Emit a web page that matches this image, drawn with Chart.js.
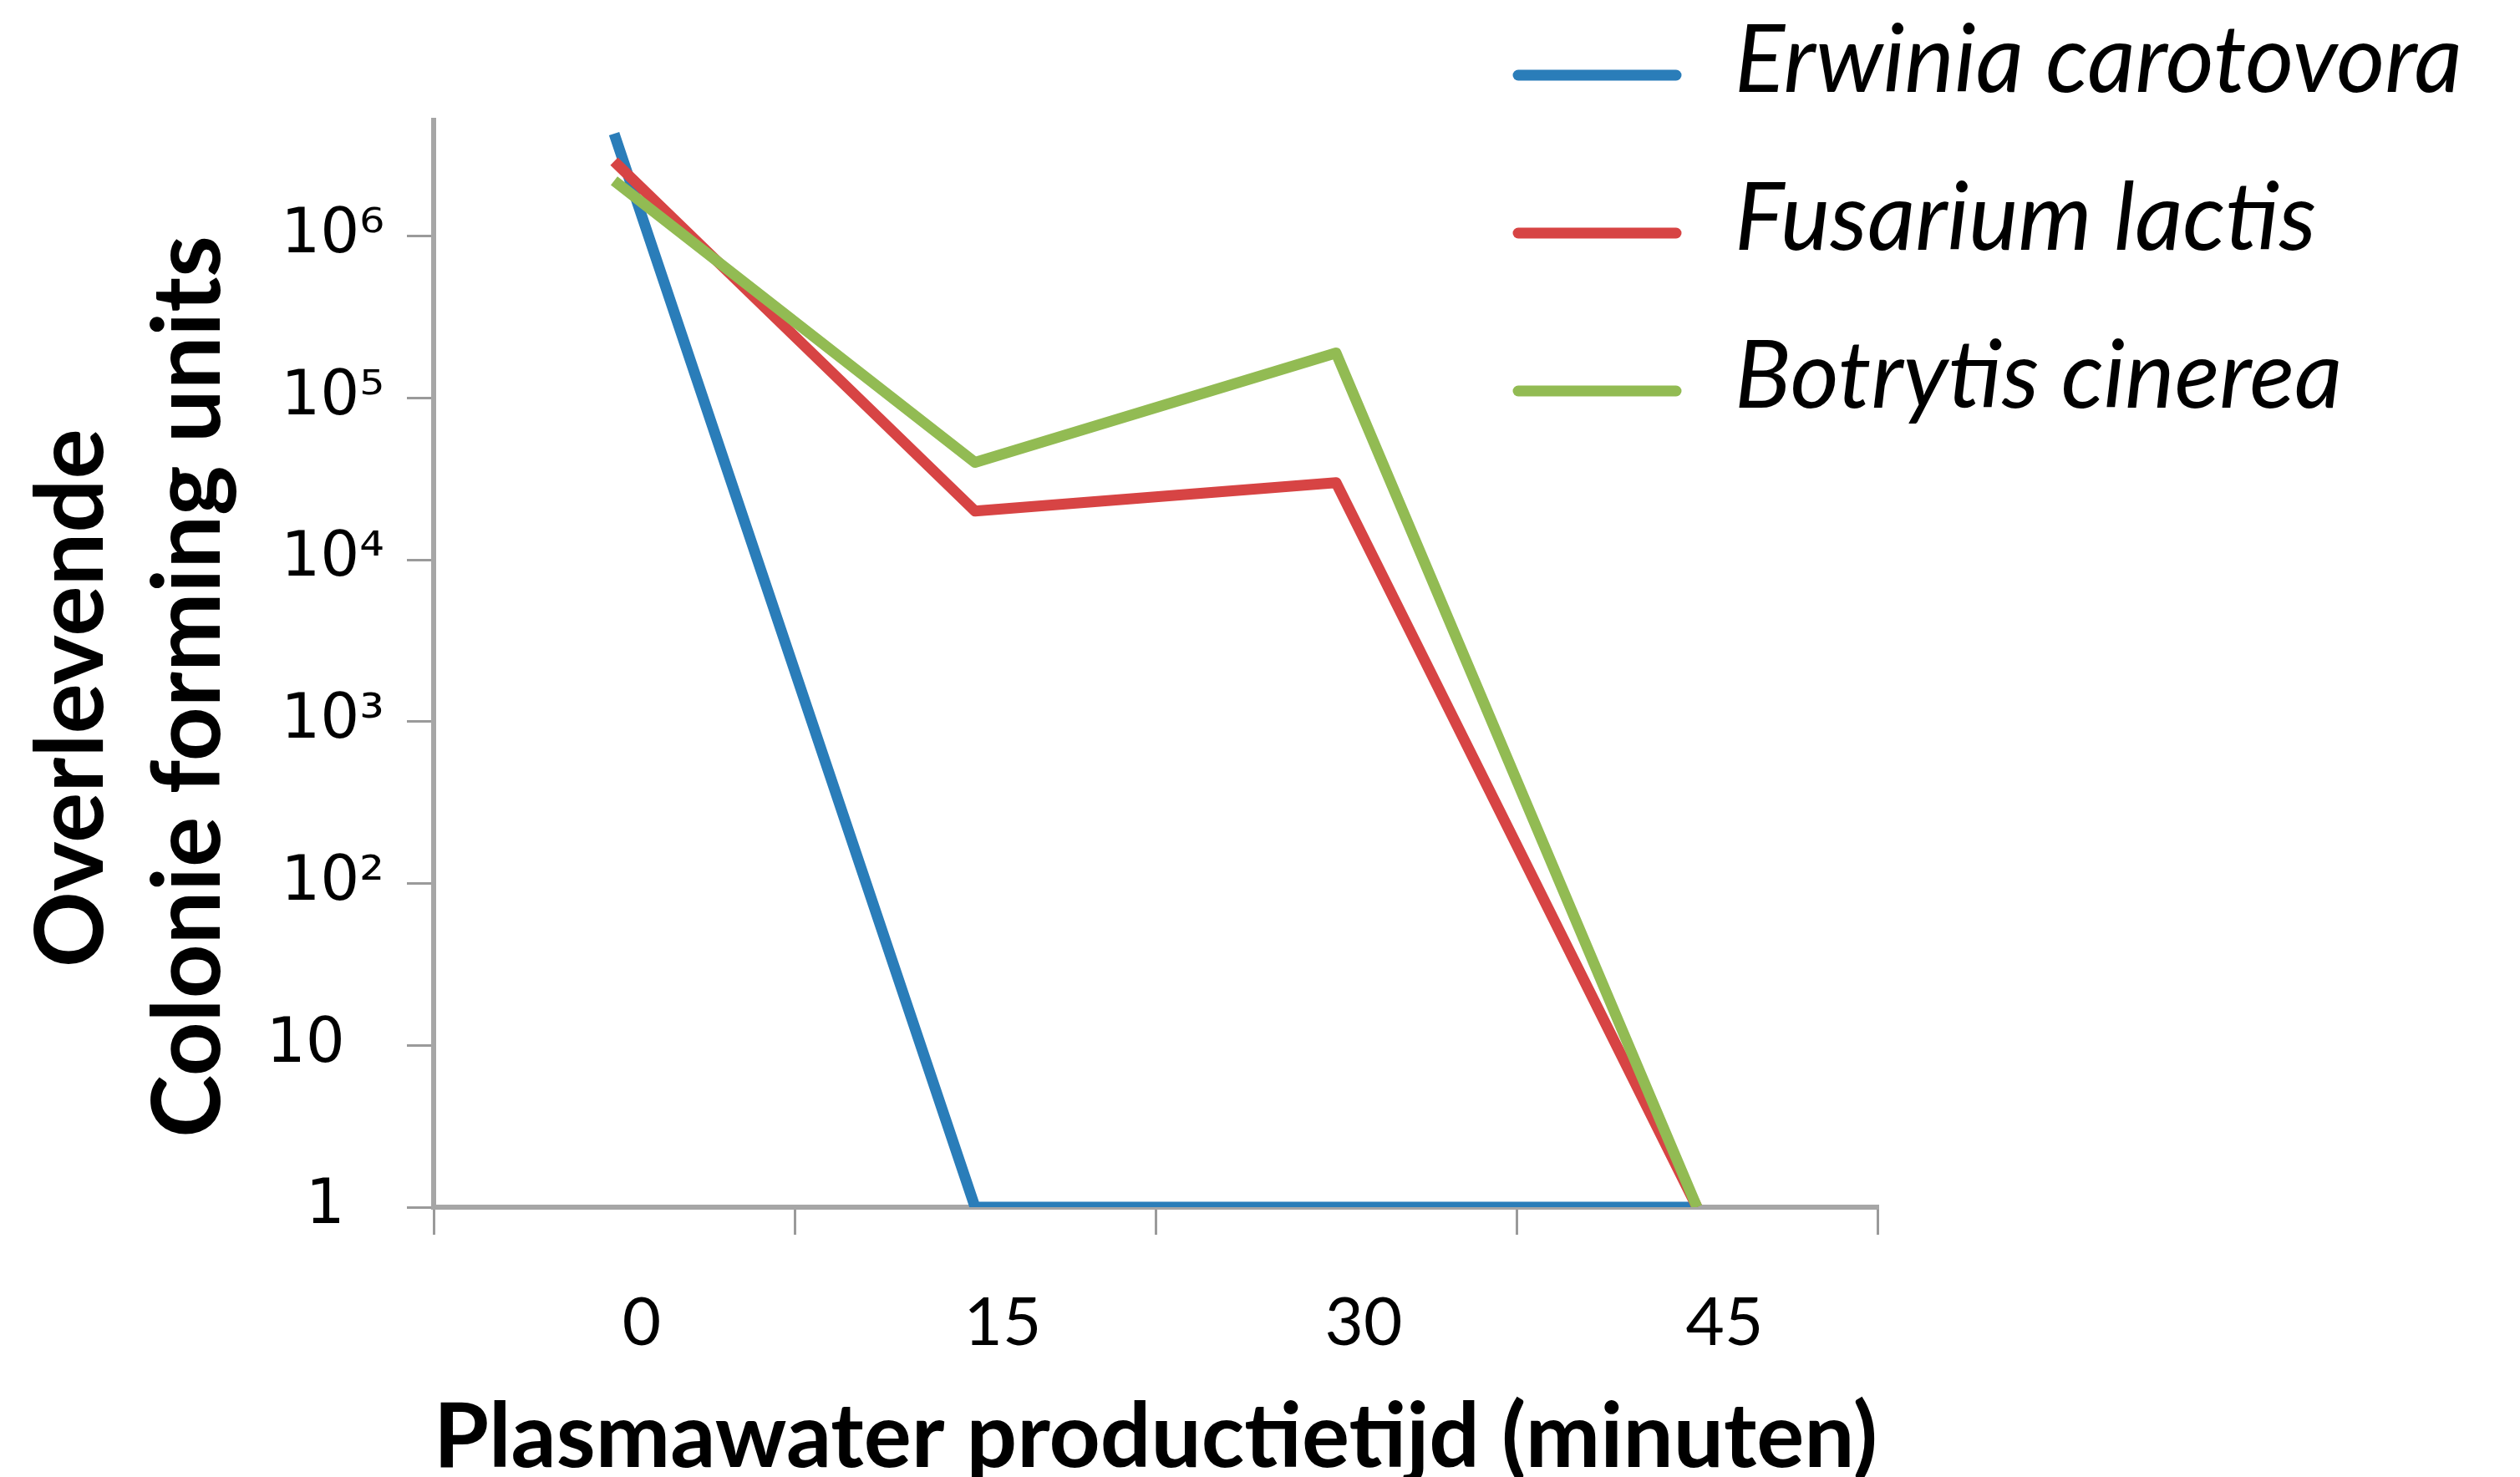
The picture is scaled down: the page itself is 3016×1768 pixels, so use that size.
<!DOCTYPE html>
<html><head><meta charset="utf-8">
<script src="https://cdn.jsdelivr.net/npm/chart.js@4"></script>
<style>html,body{margin:0;padding:0;background:#fff;overflow:hidden}#wrap{width:3016px;height:1768px;position:relative}</style>
</head><body><div id="wrap"><canvas id="c" width="3016" height="1768"></canvas></div>
<script>
// ---- data ----
const categories = ['0', '15', '30', '45'];
const seriesNames = ['Erwinia carotovora', 'Fusarium lactis', 'Botrytis cinerea'];
const erwinia = [4.3e6, 1, 1, 1];
const fusarium = [2.9e6, 2.0e4, 3.0e4, 1];
const botrytis = [2.2e6, 4.0e4, 1.9e5, 1];
const yTickValues = [1, 10, 100, 1000, 10000, 100000, 1000000];
const yTickLabels = ['1', '10', '10²', '10³', '10⁴', '10⁵', '10⁶'];
const yMin = 1;
const yMax = 5.2e6;
const xTitle = 'Plasmawater productietijd (minuten)';
const yTitle = ['Overlevende', 'Colonie forming units'];

const colors = ['#2A7DB9', '#D74444', '#92BB53'];
const NB = '\u00a0';

const legendPlugin = {
  id: 'customLegend',
  afterDraw(chart) {
    const ctx = chart.ctx;
    const ys = [90, 279, 468];
    ctx.save();
    chart.data.datasets.forEach((ds, i) => {
      const y = ys[i];
      ctx.strokeStyle = ds.borderColor;
      ctx.lineWidth = 13;
      ctx.lineCap = 'round';
      ctx.beginPath();
      ctx.moveTo(1817, y);
      ctx.lineTo(2006, y);
      ctx.stroke();
      ctx.fillStyle = '#000';
      ctx.font = 'italic 112px Lato';
      ctx.textAlign = 'left';
      ctx.textBaseline = 'alphabetic';
      ctx.fillText(ds.label, 2076, y + 20);
    });
    ctx.restore();
  }
};

function build() {
  new Chart(document.getElementById('c'), {
    type: 'line',
    data: {
      labels: categories,
      datasets: [
        { label: seriesNames[0], data: erwinia, borderColor: colors[0], order: 2 },
        { label: seriesNames[1], data: fusarium, borderColor: colors[1], order: 1 },
        { label: seriesNames[2], data: botrytis, borderColor: colors[2], order: 0 }
      ].map(d => Object.assign(d, { borderWidth: 13, pointRadius: 0, pointHoverRadius: 0, tension: 0, fill: false, borderCapStyle: 'butt', borderJoinStyle: 'round' }))
    },
    options: {
      responsive: false,
      animation: false,
      devicePixelRatio: 1,
      layout: { padding: { left: 0, top: 144, right: 769, bottom: 0 } },
      plugins: { legend: { display: false }, tooltip: { enabled: false } },
      scales: {
        x: {
          type: 'category',
          offset: true,
          grid: { offset: true, drawOnChartArea: false, drawTicks: true, tickLength: 33, color: '#9a9a9a', lineWidth: 3 },
          border: { display: true, color: '#a6a6a6', width: 6 },
          ticks: { font: { family: 'Lato', size: 80 }, color: '#000', padding: 58, labelOffset: 33, autoSkip: false, maxRotation: 0 },
          title: { display: true, text: xTitle, font: { family: 'Lato', size: 108, weight: 'bold' }, color: '#000', padding: { top: 0, bottom: -18 } },
          afterFit(s) { s.height = 323; }
        },
        y: {
          type: 'logarithmic',
          min: yMin,
          max: yMax,
          afterBuildTicks(s) { s.ticks = yTickValues.map(v => ({ value: v })); },
          grid: { drawOnChartArea: false, drawTicks: true, tickLength: 32, color: '#9a9a9a', lineWidth: 3 },
          border: { display: true, color: '#a6a6a6', width: 6 },
          ticks: {
            font: { family: 'DejaVu Sans', size: 74 }, color: '#000', padding: 27, autoSkip: false,
            callback(v) {
              const i = yTickValues.indexOf(v);
              if (i < 0) return '';
              const l = yTickLabels[i];
              return l.length <= 2 ? l + NB + NB : l;
            }
          },
          title: { display: true, text: [yTitle[0] + NB + NB + NB, yTitle[1] + NB + NB], font: { family: 'Lato', size: 113, weight: 'bold', lineHeight: 1.239 }, color: '#000', padding: { top: 17, bottom: 0 } },
          afterFit(s) { s.width = 519; }
        }
      }
    },
    plugins: [legendPlugin]
  });
}

Promise.all([
  document.fonts.load('80px Lato'),
  document.fonts.load('bold 108px Lato'),
  document.fonts.load('italic 112px Lato'),
  document.fonts.load('74px "DejaVu Sans"')
]).then(build, build);
</script>
</body></html>
